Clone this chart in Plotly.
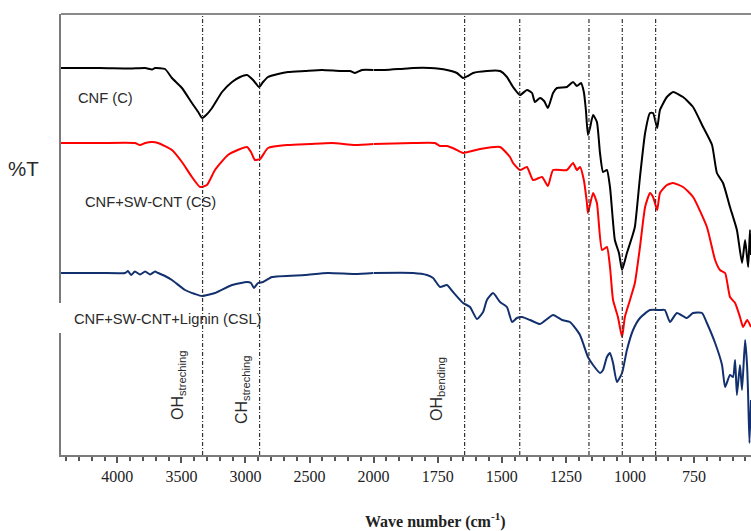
import plotly.graph_objects as go

# ---------------- data ----------------
# wavenumbers (cm-1) and relative transmittance (a.u., stacked offsets)
CNF_WN = [4440, 4136, 3902, 3783, 3729, 3706, 3628, 3574, 3496, 3418, 3369, 3339, 3307, 3261,
          3183, 3105, 3042, 2988, 2941, 2894, 2863, 2824, 2746, 2668, 2535, 2403, 2262, 2184,
          2145, 2091, 2000, 1956, 1897, 1846, 1780, 1714, 1675, 1651, 1632, 1612, 1558, 1507,
          1480, 1456, 1429, 1402, 1382, 1371, 1351, 1335, 1320, 1300, 1285, 1246, 1222, 1207,
          1191, 1180, 1172, 1164, 1156, 1144, 1129, 1117, 1105, 1090, 1078, 1059, 1043, 1031,
          1012, 992, 981, 961, 941, 922, 910, 894, 883, 856, 832, 793, 754, 715, 680, 661, 637,
          610, 583, 563, 551, 539, 532, 528]
CNF_T = [387, 387, 386.5, 387, 385.5, 387, 386, 377, 367, 352, 343, 337, 340, 347,
         363, 373, 378, 380, 375, 368, 373, 378, 381, 383, 384, 385, 384, 384,
         382, 385, 385, 385, 386, 387, 387, 385, 382, 377, 379, 382, 384, 384,
         378, 368, 360, 365, 362, 353, 357, 354, 347, 362, 367, 368, 373, 369,
         372, 363, 345, 320, 327, 340, 333, 302, 283, 285, 268, 215, 202, 185,
         202, 218, 228, 278, 322, 342, 342, 327, 345, 358, 363, 358, 348, 328, 310, 282, 272,
         248, 225, 192, 215, 188, 225, 200]

CS_WN = [4440, 4136, 3863, 3823, 3783, 3729, 3682, 3574, 3496, 3418, 3355, 3301, 3238, 3137,
         3042, 2988, 2957, 2926, 2886, 2824, 2668, 2496, 2325, 2145, 2000, 1846, 1761, 1741,
         1714, 1683, 1651, 1585, 1507, 1468, 1456, 1429, 1402, 1378, 1343, 1320, 1300, 1246,
         1222, 1207, 1195, 1180, 1168, 1164, 1144, 1129, 1109, 1090, 1078, 1066, 1047, 1031,
         1020, 1000, 981, 961, 941, 922, 910, 894, 883, 856, 832, 793, 754, 700, 668, 649,
         629, 610, 590, 571, 559, 543, 528]
CS_T = [312, 312, 312, 310, 312, 313, 312, 305, 293, 278, 268, 270, 285, 300,
        306, 308, 303, 295, 296, 307, 310, 311, 312, 310, 311, 312, 312, 309,
        309, 306, 302, 306, 308, 298, 292, 285, 288, 275, 278, 269, 285, 285,
        292, 285, 288, 275, 252, 242, 262, 252, 205, 208, 188, 155, 138, 118,
        138, 155, 172, 208, 248, 262, 258, 245, 262, 270, 272, 268, 258, 228, 195, 185,
        182, 158, 152, 138, 128, 135, 128]

CSL_WN = [4440, 4136, 3940, 3917, 3893, 3863, 3823, 3783, 3744, 3706, 3682, 3628, 3574, 3472,
          3394, 3339, 3237, 3105, 2988, 2957, 2934, 2902, 2863, 2793, 2535, 2356, 2145, 2000,
          1846, 1792, 1768, 1741, 1714, 1690, 1651, 1624, 1597, 1573, 1558, 1534, 1507, 1480,
          1460, 1441, 1421, 1390, 1351, 1300, 1265, 1234, 1195, 1164, 1144, 1117, 1105, 1090,
          1078, 1066, 1051, 1031, 1012, 988, 961, 922, 883, 864, 844, 817, 778, 754, 719, 700,
          668, 641, 629, 610, 598, 590, 583, 571, 563, 551, 543, 539, 534, 528]
CSL_T = [182, 182, 182, 184, 180, 183.5, 180.5, 183.5, 180.5, 183.5, 182, 179, 175, 165,
         161, 159, 162, 170, 173, 172, 167, 172, 173, 178, 180, 182, 181, 182,
         182, 180, 177, 168, 170, 163, 152, 148, 136, 143, 155, 162, 153, 148,
         133, 137, 138, 135, 131, 140, 135, 133, 120, 98, 90, 82, 85, 98,
         102, 92, 73, 82, 105, 125, 137, 145, 145, 145, 133, 142, 137, 142, 142, 132,
         112, 90, 68, 80, 78, 95, 60, 90, 65, 115, 88, 58, 12, 55]

SERIES = [
    ("CNF (C)", CNF_WN, CNF_T, "#000000"),
    ("CNF+SW-CNT (CS)", CS_WN, CS_T, "#ff0000"),
    ("CNF+SW-CNT+Lignin (CSL)", CSL_WN, CSL_T, "#13306e"),
]

PEAK_LINES = [3335, 2890, 1645, 1430, 1160, 1030, 900]
PEAK_LABELS = [("OH", "streching", 3527), ("CH", "streching", 3027), ("OH", "bending", 1753)]
TICKS_HIGH = [4000, 3500, 3000, 2500]
TICKS_LOW = [2000, 1750, 1500, 1250, 1000, 750]
RANGE_HIGH = [4440, 2000]
RANGE_LOW = [2000, 528]
BREAK = 2000

# ---------------- figure ----------------
PAGE_OFF = 0                       # body margin removed below
W, H = 751 - PAGE_OFF, 531 - PAGE_OFF
L_S, T_S, B_S, R_S = 61, 14, 455, 751   # plot area in screenshot pixels
ML, MT = L_S - PAGE_OFF, T_S - PAGE_OFF
MB = H - (B_S - PAGE_OFF)
MR = 0
PW = R_S - L_S
PH = B_S - T_S
SPLIT = (373.6 - L_S) / PW


def px(x):
    return (x - L_S) / PW


def py(y):
    return (B_S - y) / PH


fig = go.Figure()
for name, wn, t, col in SERIES:
    hi = [(w, v) for w, v in zip(wn, t) if w >= BREAK]
    lo = [(w, v) for w, v in zip(wn, t) if w <= BREAK]
    for seg, ax in ((hi, "x"), (lo, "x2")):
        fig.add_trace(go.Scatter(x=[p[0] for p in seg], y=[p[1] for p in seg], mode="lines",
                                 line=dict(color=col, width=2, shape="spline", smoothing=0.5),
                                 xaxis=ax, yaxis="y", showlegend=False, name=name))

shapes = []
for i, wn in enumerate(PEAK_LINES):
    shapes.append(dict(type="line", xref="x" if wn > BREAK else "x2", yref="paper",
                       x0=wn, x1=wn, y0=0, y1=1 if i < 3 else 0.99,
                       line=dict(color="#333333", width=1.2, dash="4px,2px,1px,2px"),
                       layer="above"))
# top border
shapes.append(dict(type="line", xref="paper", yref="paper", x0=0, x1=1, y0=1, y1=1,
                   line=dict(color="#8a8a8a", width=2), layer="above"))
# white patch behind CSL label interrupting the left axis
shapes.append(dict(type="rect", xref="paper", yref="paper", x0=px(58), x1=px(64),
                   y0=py(333), y1=py(303),
                   fillcolor="white", line=dict(width=0), layer="above"))

lab_font = dict(family="Arial, Liberation Sans, sans-serif", size=14.7, color="#2a2a2a")
label_pos = [(76, 98), (83, 202), (72, 319)]
annotations = []
for (name, _, _, _), (lx, ly) in zip(SERIES, label_pos):
    annotations.append(dict(text=name, xref="paper", yref="paper", x=px(lx), y=py(ly),
                            xanchor="left", yanchor="middle", showarrow=False, font=lab_font))

peak_y = [385, 390, 389]
for (main, sub, wn), ly in zip(PEAK_LABELS, peak_y):
    annotations.append(dict(text=f"{main}<sub>{sub}</sub>", xref="x" if wn > BREAK else "x2",
                            yref="paper", x=wn, y=py(ly), textangle=-90,
                            showarrow=False, xanchor="center", yanchor="middle",
                            font=dict(family="Arial, Liberation Sans, sans-serif", size=16,
                                      color="#2a2a2a")))

annotations.append(dict(text="%T", xref="paper", yref="paper", x=px(23), y=py(168),
                        showarrow=False, xanchor="center", yanchor="middle",
                        font=dict(family="Arial, Liberation Sans, sans-serif", size=20.5,
                                  color="#2a2a2a")))
annotations.append(dict(text="<b>Wave number (cm<sup>-1</sup>)</b>", xref="paper", yref="paper",
                        x=px(435), y=py(520), showarrow=False,
                        xanchor="center", yanchor="middle",
                        font=dict(family="Times New Roman, Liberation Serif, serif", size=16,
                                  color="#222222")))

tick_font = dict(family="Times New Roman, Liberation Serif, serif", size=16, color="#222222")
common_x = dict(showline=True, linecolor="#7a7a7a", linewidth=2, showgrid=False, zeroline=False,
                ticks="outside", ticklen=6, tickcolor="#555555", tickwidth=1.5,
                tickfont=tick_font, tickmode="array", anchor="y")

fig.update_layout(
    width=W, height=H,
    margin=dict(l=ML, r=MR, t=MT, b=MB, autoexpand=False),
    paper_bgcolor="white", plot_bgcolor="white",
    xaxis=dict(domain=[0, SPLIT], range=RANGE_HIGH, tickvals=TICKS_HIGH,
               minor=dict(ticks="outside", ticklen=4, tickcolor="#555555", tickmode="linear",
                          tick0=0, dtick=100),
               **common_x),
    xaxis2=dict(domain=[SPLIT, 1], range=RANGE_LOW, tickvals=TICKS_LOW,
                minor=dict(ticks="outside", ticklen=4, tickcolor="#555555", tickmode="linear",
                           tick0=0, dtick=50),
                **common_x),
    yaxis=dict(range=[0, PH], showline=True, linecolor="#7a7a7a", linewidth=2, showgrid=False,
               zeroline=False, showticklabels=False, ticks=""),
    shapes=shapes,
    annotations=annotations,
)

fig.write_html("out.html", config={"displayModeBar": False},
               post_script="document.body.style.margin='0';document.body.style.overflow='hidden';")
